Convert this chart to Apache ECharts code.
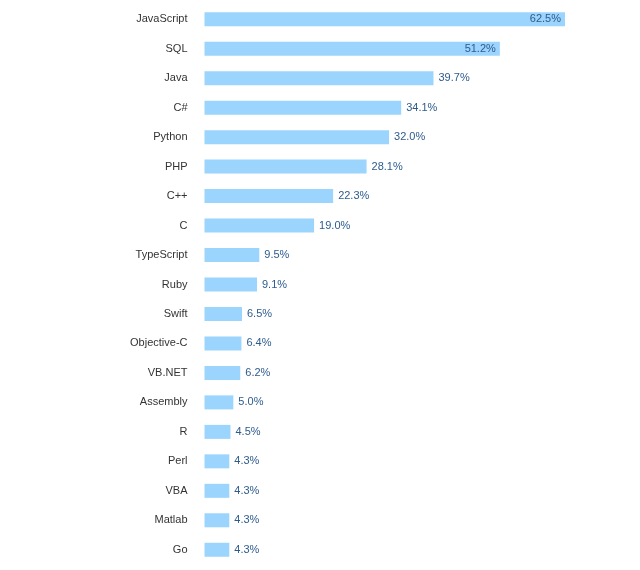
<!DOCTYPE html>
<html>
<head>
<meta charset="utf-8">
<script src="https://cdn.jsdelivr.net/npm/echarts@6/dist/echarts.min.js"></script>
<style>
  html, body { margin: 0; padding: 0; background: #fff; }
  #chart { width: 640px; height: 570px; }
</style>
</head>
<body>
<div id="chart"></div>
<script>
// languages, top to bottom
const languages = ['JavaScript', 'SQL', 'Java', 'C#', 'Python', 'PHP', 'C++', 'C',
  'TypeScript', 'Ruby', 'Swift', 'Objective-C', 'VB.NET', 'Assembly', 'R', 'Perl',
  'VBA', 'Matlab', 'Go'];
const shares = [62.5, 51.2, 39.7, 34.1, 32.0, 28.1, 22.3, 19.0, 9.5, 9.1, 6.5, 6.4,
  6.2, 5.0, 4.5, 4.3, 4.3, 4.3, 4.3];
// these two have their label drawn inside the bar
const insideLabels = ['JavaScript', 'SQL'];

const chart = echarts.init(document.getElementById('chart'), null, { renderer: 'canvas' });

const data = shares.map((v, i) => ({
  value: v,
  label: insideLabels.includes(languages[i]) ? { position: 'insideRight', distance: 4 } : {}
}));

chart.setOption({
  animation: false,
  grid: { left: 204.5, right: 75, top: 4.5, bottom: 5.5 },
  xAxis: {
    type: 'value',
    min: 0,
    max: 62.5,
    show: false
  },
  yAxis: {
    type: 'category',
    inverse: true,
    data: languages,
    axisLine: { show: false },
    axisTick: { show: false },
    axisLabel: {
      margin: 17,
      color: '#333',
      fontFamily: 'Liberation Sans',
      fontSize: 11
    }
  },
  series: [{
    type: 'bar',
    data: data,
    barWidth: 14,
    itemStyle: { color: '#9bd4fd' },
    label: {
      show: true,
      position: 'right',
      distance: 5,
      color: '#2d5b8e',
      fontFamily: 'Liberation Sans',
      fontSize: 11,
      formatter: p => p.value.toFixed(1) + '%'
    }
  }]
});
</script>
</body>
</html>
